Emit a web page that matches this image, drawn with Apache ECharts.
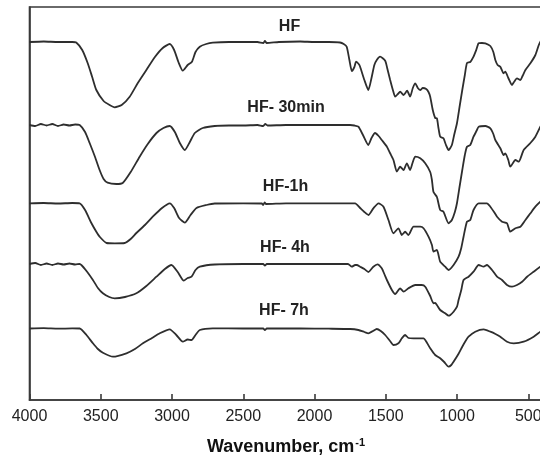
<!DOCTYPE html>
<html><head><meta charset="utf-8">
<script src="https://cdn.jsdelivr.net/npm/echarts@6/dist/echarts.min.js"></script>
<style>html,body{margin:0;padding:0;background:#fff}#c{width:540px;height:461px}</style>
</head><body><div id="c"></div>
<script>
const tickValues = [4000,3500,3000,2500,2000,1500,1000,500];
const seriesNames = ['HF','HF- 30min','HF-1h','HF- 4h','HF- 7h'];

const hf = [[4000,358],[3900,358.5],[3800,358],[3700,358],[3672,357.5],[3630,350],[3592,337],[3560,323],[3531,310],[3480,299],[3438,295],[3402,292.7],[3353,295],[3297,303.3],[3240,317],[3180,330],[3120,343],[3065,352],[3016,356],[2985,350],[2955,338],[2924,329.3],[2890,335],[2860,338.3],[2835,348],[2805,353.3],[2760,356],[2714,357.3],[2600,358],[2500,358],[2400,358],[2360,357],[2348,359],[2335,357],[2250,358],[2100,358.5],[2000,358],[1900,358],[1821,357.5],[1795,356],[1774,353.3],[1755,340],[1738,329],[1720,333],[1708,338.3],[1690,336],[1680,333.3],[1650,320],[1622,310],[1600,322],[1580,335],[1563,340],[1540,343.3],[1504,339.3],[1490,332],[1469,320],[1450,310],[1434,303.3],[1415,306],[1399,308.3],[1375,305],[1350,309.3],[1329,303.3],[1310,312],[1293,316.7],[1275,312],[1258,310],[1240,312],[1216,311],[1200,308],[1188,303.3],[1170,290],[1153,282],[1141,281.7],[1130,272],[1118,263.3],[1095,261.7],[1080,256],[1059,250],[1036,255],[1020,265],[1000,277],[980,295],[963,310],[945,325],[930,337],[907,338],[884,343.3],[865,350],[848,356.7],[825,357],[801,356.7],[766,354],[745,348],[731,340],[715,335],[696,333.3],[673,326.7],[661,328.3],[640,322],[614,315],[600,318],[579,321.7],[555,320],[540,324],[520,330],[485,336.7],[450,345],[426,355],[405,361]];

const hf30min = [[4000,275],[3960,274],[3920,276],[3880,274.5],[3840,276],[3800,274],[3760,275.5],[3720,274.5],[3680,275.5],[3648,275],[3610,268],[3578,257],[3540,243],[3508,230],[3480,221],[3452,217.3],[3390,216],[3346,217],[3290,228],[3227,243.3],[3170,256],[3109,267],[3060,272],[3016,274],[2980,268],[2945,257],[2910,250],[2875,258],[2840,267],[2784,272],[2700,274],[2600,274.5],[2500,274.5],[2400,275],[2360,274],[2345,276],[2330,274.5],[2200,275],[2000,275],[1850,275],[1750,275],[1720,274.5],[1692,273.3],[1660,265],[1622,255],[1600,262],[1575,267],[1550,264],[1528,260],[1492,253.3],[1470,247],[1446,240],[1422,228.3],[1399,233.3],[1375,230],[1352,236.7],[1329,230],[1310,238],[1293,243.3],[1258,241.7],[1223,236.7],[1188,228],[1176,220],[1165,208],[1141,203],[1118,190],[1095,188.3],[1059,176.7],[1036,180],[1015,188],[1000,197],[980,215],[963,230],[945,245],[930,253.3],[907,255],[884,263.3],[860,270],[848,273.3],[801,274],[766,271.7],[745,266],[731,260],[696,251.7],[673,245],[661,246.7],[640,240],[626,233.3],[590,240],[567,238.3],[532,250],[485,257],[450,263.3],[415,273.3],[405,276]];

const hf1h = [[4000,196.7],[3900,197],[3800,196.5],[3700,197],[3648,196.7],[3610,190],[3566,177],[3530,168],[3508,163.3],[3459,157],[3402,156.7],[3332,157],[3290,161],[3250,167],[3190,175],[3135,183.3],[3070,192],[3016,196.7],[2985,192],[2950,182],[2910,177.3],[2870,185],[2828,192],[2758,195],[2700,196.5],[2500,196.7],[2370,196.5],[2360,195],[2350,197.5],[2340,196],[2200,196.7],[2000,196.7],[1800,196.7],[1715,196.7],[1680,192],[1650,188],[1622,185],[1587,191.7],[1551,196.7],[1516,193.3],[1481,180],[1446,166.7],[1411,171.7],[1387,165],[1364,168.3],[1341,165],[1305,173.3],[1258,173.3],[1235,171.7],[1200,163.3],[1176,155],[1165,148.3],[1141,150],[1118,138.3],[1083,133.3],[1059,130],[1024,135],[989,143.3],[970,152],[954,163.3],[930,178.3],[907,180],[884,190],[848,196.7],[790,196.7],[766,193.3],[740,188],[719,183.3],[684,178.3],[649,176.7],[626,168.3],[590,171.7],[555,173.3],[520,180],[485,186.7],[450,193.3],[415,198.3],[405,199]];

const hf4h = [[4000,136],[3960,137],[3920,135],[3880,136.5],[3840,135],[3800,136.5],[3760,135.5],[3720,136.5],[3680,135.5],[3648,136],[3600,129],[3555,120],[3520,112],[3485,106.7],[3440,103],[3402,101.7],[3330,103],[3250,106.7],[3180,114],[3109,123.3],[3050,131],[3004,135],[2960,128],[2917,119.3],[2890,122],[2863,123.3],[2835,130],[2805,133.3],[2700,135.5],[2500,136],[2360,136],[2348,134.5],[2335,136],[2100,136],[1900,136],[1765,136],[1738,133.3],[1715,135],[1703,135],[1680,133.3],[1650,131],[1622,128],[1587,133.3],[1558,135.7],[1528,131.7],[1510,126],[1492,120],[1457,110],[1434,106],[1399,111.7],[1375,108.3],[1341,111.7],[1293,115],[1247,115],[1223,113.3],[1188,104],[1165,96.7],[1153,97],[1141,95],[1118,90],[1083,86.7],[1059,84.3],[1047,85],[1024,88.3],[1000,93.3],[989,100],[970,110],[954,120],[919,123.3],[884,128.3],[848,135],[813,133.3],[790,135],[754,130],[719,123.3],[684,120],[649,115],[614,113.3],[579,115],[543,118.3],[508,123.3],[462,128.3],[415,133.3],[405,134]];

const hf7h = [[4000,71.5],[3900,71.8],[3800,71.3],[3700,71.6],[3648,71.5],[3600,65],[3555,56.7],[3520,51],[3485,47.3],[3414,43.3],[3320,46.7],[3260,51],[3204,56.7],[3140,62],[3086,66.7],[3016,70.7],[2970,65],[2924,58.3],[2890,60.5],[2863,60],[2835,65],[2805,70],[2714,71.7],[2500,71.5],[2360,71.5],[2348,70],[2335,71.5],[2100,71.5],[1900,71.3],[1750,71],[1692,70],[1650,68],[1622,66.7],[1590,69],[1563,71],[1535,69],[1504,65],[1470,59],[1446,55],[1411,56.7],[1387,61.7],[1364,65],[1340,62],[1305,61.7],[1270,61.7],[1235,61.7],[1210,57],[1188,51.7],[1153,45],[1118,41.7],[1090,38],[1059,33.3],[1040,35],[1024,38.3],[990,46],[963,53.3],[940,59],[919,63.3],[872,68.3],[813,70.7],[766,68.3],[730,66],[696,63.3],[649,58.3],[602,56.7],[532,58.3],[462,63.3],[415,68.3],[405,69]];

const seriesData = [hf, hf30min, hf1h, hf4h, hf7h];
const labelPos = [[289.5,27],[286,108],[285.5,187],[285,247.5],[284,311]];

const FONT = 'Liberation Sans, Arial, Helvetica, sans-serif';
const chart = echarts.init(document.getElementById('c'), null, {renderer:'canvas'});
chart.setOption({
  backgroundColor: '#ffffff',
  animation: false,
  grid: {left: 29.5, top: 7, width: 513, height: 393, containLabel: false, outerBoundsMode: 'none',
         show: true, borderColor: '#3a3a3a', borderWidth: 1.6, backgroundColor: 'transparent'},
  xAxis: {
    type: 'value', inverse: true, min: 400, max: 4000,
    name: '{a|Wavenumber, cm}{b|-1}', nameLocation: 'middle', nameGap: 36,
    nameTextStyle: {rich: {
      a: {fontFamily: FONT, fontSize: 18, fontWeight: 'bold', color: '#111', lineHeight: 22},
      b: {fontFamily: FONT, fontSize: 11, fontWeight: 'bold', color: '#111', padding: [0,0,9,1]}
    }},
    axisLine: {show: true, onZero: false, lineStyle: {color: '#3a3a3a', width: 1.6}},
    axisTick: {show: true, inside: true, length: 6, customValues: tickValues, lineStyle: {color: '#3a3a3a', width: 1.6}},
    axisLabel: {customValues: tickValues, margin: 9, fontFamily: FONT, fontSize: 16, color: '#222',
                formatter: v => String(v), showMinLabel: true, showMaxLabel: true},
    splitLine: {show: false}
  },
  yAxis: {
    type: 'value', min: 0, max: 393,
    axisLine: {show: true, lineStyle: {color: '#3a3a3a', width: 1.6}},
    axisTick: {show: false}, axisLabel: {show: false}, splitLine: {show: false}
  },
  series: seriesData.map((d, i) => ({
    name: seriesNames[i], type: 'line', data: d, showSymbol: false, smooth: 0.2,
    lineStyle: {color: '#2e2e2e', width: 1.8}, clip: false
  })),
  graphic: seriesNames.map((n, i) => ({
    type: 'text', x: labelPos[i][0], y: labelPos[i][1],
    style: {text: n, fontFamily: FONT, fontSize: 16, fontWeight: 'bold', fill: '#222', align: 'center', verticalAlign: 'middle'}
  }))
});
</script></body></html>
